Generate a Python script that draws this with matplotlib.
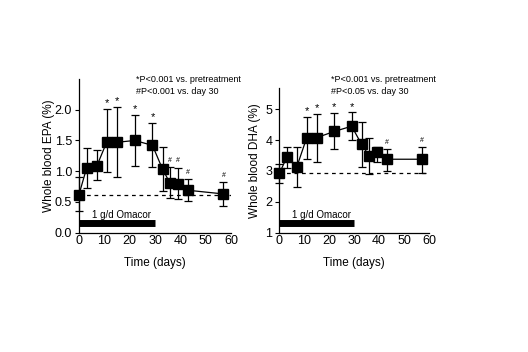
import matplotlib
matplotlib.use("Agg")
import matplotlib.pyplot as plt

plt.rcParams['font.family'] = ['Liberation Sans', 'DejaVu Sans']

# Time points (days)
days = [0, 3, 7, 11, 15, 22, 29, 33, 36, 39, 43, 57]

# Whole blood EPA (%)
epa = [0.62, 1.05, 1.08, 1.48, 1.47, 1.50, 1.42, 1.03, 0.80, 0.79, 0.69, 0.63]
epa_hi = [0.91, 1.38, 1.35, 2.01, 2.05, 1.92, 1.79, 1.40, 1.07, 1.06, 0.88, 0.83]
epa_lo = [0.35, 0.72, 0.85, 0.98, 0.91, 1.09, 1.07, 0.67, 0.56, 0.55, 0.52, 0.44]
epa_base = 0.62
epa_star = [11, 15, 22, 29]
epa_hash = [36, 39, 43, 57]

# Whole blood DHA (%)
dha = [2.92, 3.44, 3.13, 4.08, 4.08, 4.28, 4.45, 3.86, 3.49, 3.61, 3.38, 3.38]
dha_hi = [3.22, 3.79, 3.79, 4.76, 4.85, 4.87, 4.90, 4.60, 4.06, 3.77, 3.72, 3.77]
dha_lo = [2.62, 3.08, 2.49, 3.38, 3.30, 3.70, 4.00, 3.12, 2.89, 3.30, 3.01, 2.92]
dha_base = 2.92
dha_star = [11, 15, 22, 29]
dha_hash = [43, 57]

W, H = 528, 352

panels = [
    dict(vals=epa, hi=epa_hi, lo=epa_lo, base=epa_base, star=epa_star, hash=epa_hash,
         ylabel="Whole blood EPA (%)", ylim=(0, 2.5), yticks=[0, 0.5, 1.0, 1.5, 2.0],
         yticklabels=["0.0", "0.5", "1.0", "1.5", "2.0"],
         note2="#P<0.001 vs. day 30", rect=[0.1496, 0.339, 0.288, 0.4366],
         notex=136, labelpad=0),
    dict(vals=dha, hi=dha_hi, lo=dha_lo, base=dha_base, star=dha_star, hash=dha_hash,
         ylabel="Whole blood DHA (%)", ylim=(1, 5.7), yticks=[1, 2, 3, 4, 5],
         yticklabels=["1", "2", "3", "4", "5"],
         note2="#P<0.05 vs. day 30", rect=[0.529, 0.339, 0.2835, 0.412],
         notex=331, labelpad=3),
]

fig = plt.figure(figsize=(W / 100, H / 100), dpi=100)

for p in panels:
    ax = fig.add_axes(p["rect"])
    lo_err = [v - l for v, l in zip(p["vals"], p["lo"])]
    hi_err = [h - v for v, h in zip(p["vals"], p["hi"])]
    ax.errorbar(days, p["vals"], yerr=[lo_err, hi_err], color="black", lw=0.9,
                elinewidth=0.9, capsize=3, capthick=0.9, marker="s", markersize=7,
                markerfacecolor="black", clip_on=False, zorder=3)
    ax.axhline(p["base"], color="black", lw=0.9, ls=(0, (3, 3)), zorder=1)

    yr = p["ylim"][1] - p["ylim"][0]
    for d in p["star"]:
        i = days.index(d)
        ax.text(d, p["hi"][i] + 0.005 * yr, "*", ha="center", va="bottom", fontsize=8)
    for d in p["hash"]:
        i = days.index(d)
        ax.text(d, p["hi"][i] + 0.02 * yr, "#", ha="center", va="bottom", fontsize=5)

    # treatment bar, placed at the same pixel height in both panels
    y0 = p["ylim"][0]
    px = yr / (p["rect"][3] * H)
    ax.plot([0, 30], [y0 + 9.2 * px, y0 + 9.2 * px], color="black", lw=5,
            solid_capstyle="butt")
    ax.text(5, y0 + 18 * px, "1 g/d Omacor", fontsize=7, va="center", ha="left")

    fig.text(p["notex"] / W, 1 - 80 / H, "*P<0.001 vs. pretreatment",
             fontsize=6.5, va="center", ha="left")
    fig.text(p["notex"] / W, 1 - 91.5 / H, p["note2"],
             fontsize=6.5, va="center", ha="left")

    ax.set_xlim(0, 60)
    ax.set_ylim(*p["ylim"])
    ax.set_xticks([0, 10, 20, 30, 40, 50, 60])
    ax.set_yticks(p["yticks"])
    ax.set_yticklabels(p["yticklabels"])
    ax.tick_params(axis="y", labelsize=9, length=3, width=0.8, direction="out", pad=2)
    ax.tick_params(axis="x", labelsize=9, length=0, pad=2)
    ax.spines["top"].set_visible(False)
    ax.spines["right"].set_visible(False)
    ax.spines["left"].set_linewidth(0.9)
    ax.spines["bottom"].set_linewidth(0.9)
    ax.set_xlabel("Time (days)", fontsize=8.5, labelpad=7)
    ax.set_ylabel(p["ylabel"], fontsize=8.5, labelpad=p["labelpad"])

fig.savefig("out.png", dpi=100)
